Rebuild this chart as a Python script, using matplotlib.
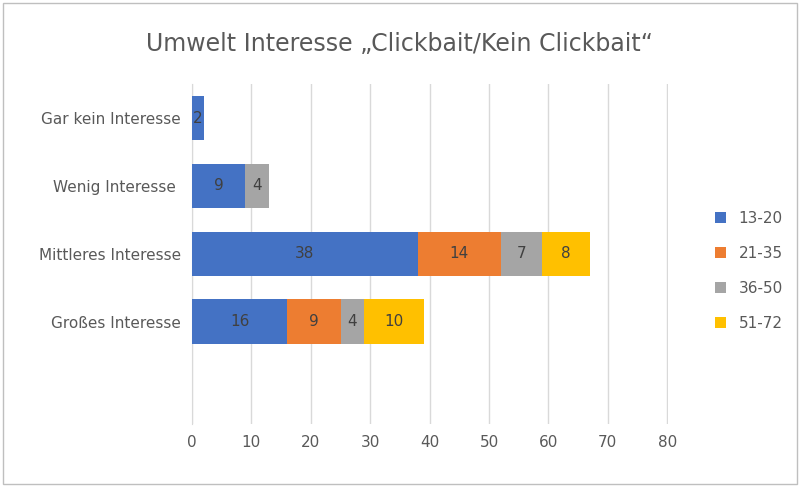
import matplotlib
matplotlib.use("Agg")
import matplotlib.pyplot as plt
import numpy as np

categories = ["Gar kein Interesse", "Wenig Interesse ", "Mittleres Interesse", "Großes Interesse", ""]
series_names = ["13-20", "21-35", "36-50", "51-72"]
s1 = [2, 9, 38, 16, 0]
s2 = [0, 0, 14, 9, 0]
s3 = [0, 4, 7, 4, 0]
s4 = [0, 0, 8, 10, 0]
colors = ["#4472C4", "#ED7D31", "#A5A5A5", "#FFC000"]
xticks = [0, 10, 20, 30, 40, 50, 60, 70, 80]

fig = plt.figure(figsize=(8, 4.86), dpi=100)
ax = fig.add_axes([0.24, 0.128, 0.5955, 0.699])
fig.patches.append(plt.Rectangle((0.004, 0.004), 0.992, 0.99, transform=fig.transFigure,
                                 fill=False, edgecolor="#BFBFBF", lw=1))
y = np.arange(len(categories))
left = np.zeros(len(categories))
for name, vals, c in zip(series_names, [s1, s2, s3, s4], colors):
    vals = np.array(vals, dtype=float)
    bars = ax.barh(y, vals, left=left, height=0.66, color=c, label=name, zorder=3)
    for b, v, l in zip(bars, vals, left):
        if v > 0:
            ax.text(l + v / 2, b.get_y() + b.get_height() / 2, f"{int(v)}",
                    ha="center", va="center", fontsize=11, color="#404040", zorder=4)
    left += vals

ax.set_xlim(0, 80.2)
ax.set_ylim(len(categories) - 0.5, -0.5)
ax.set_xticks(xticks)
ax.set_yticks(y)
ax.set_yticklabels(categories)
ax.grid(axis="x", color="#D9D9D9", lw=1, zorder=0)
for s in ["top", "right", "bottom"]:
    ax.spines[s].set_visible(False)
ax.spines["left"].set_color("#D9D9D9")
ax.tick_params(length=0, labelsize=11, colors="#595959", pad=8)
fig.suptitle("Umwelt Interesse „Clickbait/Kein Clickbait“", y=0.935, fontsize=17, color="#595959")
ax.legend(loc="center left", bbox_to_anchor=(1.07, 0.45), frameon=False, fontsize=11,
          labelcolor="#595959", handlelength=0.7, handleheight=0.7, labelspacing=1.3)
fig.savefig("out.png", dpi=100)
